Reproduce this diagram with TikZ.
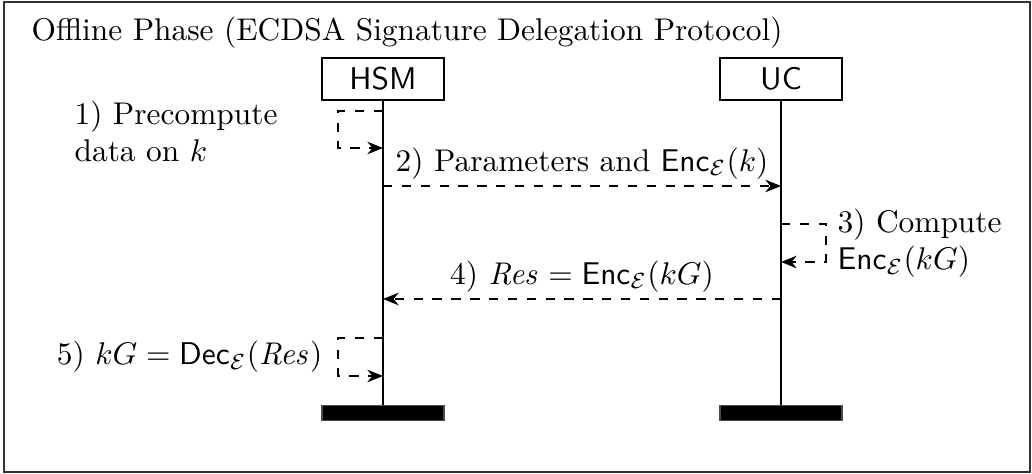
\documentclass[tikz,border=0pt]{standalone}
\usepackage{amsmath}
\usetikzlibrary{arrows.meta}
\begin{document}
\begin{tikzpicture}[x=0.3185pt,y=-0.3185pt,
  actor/.style={draw, fill=white, font=\sffamily, minimum width=38.9pt, minimum height=13.4pt, inner sep=0pt},
  lifeend/.style={draw=black!70, fill=black, minimum width=38.9pt, minimum height=4.8pt, inner sep=0pt},
  lifeline/.style={draw, line width=0.45pt},
  msg/.style={draw, dashed, -{Stealth[length=5pt,width=4pt]}},
  lbl/.style={inner sep=0pt, align=left}]
\useasboundingbox (0,0) rectangle (1032,474);
% outer frame and title
\draw[black!80] (4,2) rectangle (1030,472);
\node[lbl, anchor=base west] (title) at (31,41) {Offline Phase (ECDSA Signature Delegation Protocol)};
% participants
\node[actor] (hsm) at (383,79) {HSM};
\node[actor] (uc) at (781,79) {UC};
\node[lifeend] (hsmend) at (383,413) {};
\node[lifeend] (ucend) at (781,413) {};
\draw[lifeline] (hsm.south) -- (hsmend.north);
\draw[lifeline] (uc.south) -- (ucend.north);
% anchor points on the lifelines
\coordinate (h1a) at (383,111);
\coordinate (h1b) at (383,148);
\coordinate (h2) at (383,186);
\coordinate (u2) at (781,186);
\coordinate (u3a) at (781,224);
\coordinate (u3b) at (781,262);
\coordinate (u4) at (781,299);
\coordinate (h4) at (383,299);
\coordinate (h5a) at (383,338);
\coordinate (h5b) at (383,376);
% 1) local precomputation
\draw[msg] (h1a) -- ++(-45,0) |- (h1b);
\node[lbl, anchor=north west] (l1) at (74,100) {1) Precompute\\data on $k$};
% 2) parameters sent to UC
\draw[msg] (h2) -- node[above, inner sep=2pt] (l2) {2) Parameters and $\mathsf{Enc}_{\mathcal{E}}(k)$} (u2);
% 3) computation at UC
\draw[msg] (u3a) -- ++(45,0) |- (u3b);
\node[lbl, anchor=west] (l3) at (837,243) {3) Compute\\$\mathsf{Enc}_{\mathcal{E}}(kG)$};
% 4) result returned to HSM
\draw[msg] (u4) -- node[above, inner sep=2pt] (l4) {4) $\mathit{Res}=\mathsf{Enc}_{\mathcal{E}}(kG)$} (h4);
% 5) decryption at HSM
\draw[msg] (h5a) -- ++(-45,0) |- (h5b);
\node[lbl, anchor=east] (l5) at (323,357) {5) $kG=\mathsf{Dec}_{\mathcal{E}}(\mathit{Res})$};
\end{tikzpicture}
\end{document}
